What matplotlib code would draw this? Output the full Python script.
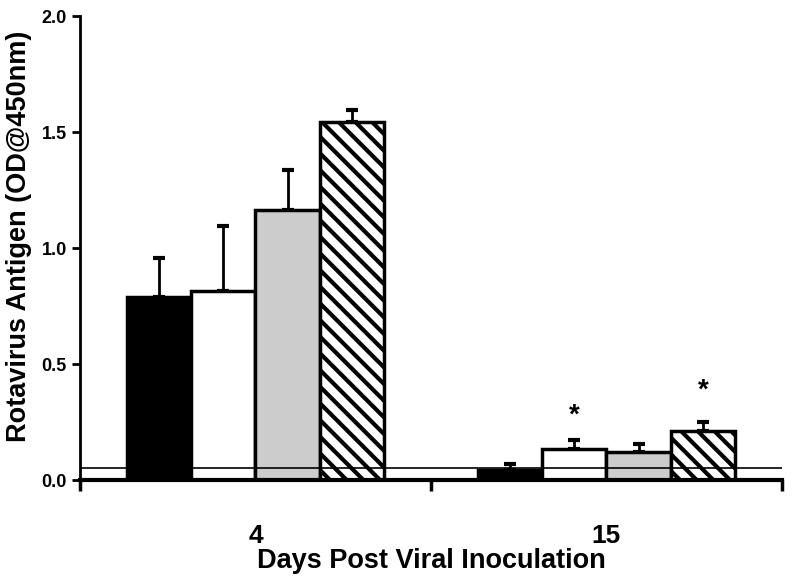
import numpy as np
import matplotlib
matplotlib.use("Agg")
import matplotlib.pyplot as plt

# data
days = ["4", "15"]
black_vals = [0.79, 0.045]
white_vals = [0.815, 0.133]
gray_vals = [1.165, 0.123]
hatch_vals = [1.545, 0.21]
black_err = [0.165, 0.025]
white_err = [0.28, 0.038]
gray_err = [0.17, 0.032]
hatch_err = [0.05, 0.04]
signif_white = [False, True]
signif_hatch = [False, True]
baseline = 0.05

plt.rcParams["hatch.linewidth"] = 3.0
plt.rcParams["font.family"] = ["Liberation Sans", "DejaVu Sans"]

fig = plt.figure(figsize=(7.95, 5.84), dpi=100)
ax = fig.add_axes([0.1006, 0.178, 0.883, 0.7946])

x = np.arange(len(days))
w = 0.183
series = [
    (black_vals, black_err, "black", ""),
    (white_vals, white_err, "white", ""),
    (gray_vals, gray_err, "#cccccc", ""),
    (hatch_vals, hatch_err, "white", "\\\\"),
]
offsets = (np.arange(4) - 1.5) * w
for (vals, err, col, h), off in zip(series, offsets):
    ax.bar(x + off, vals, w, color=col, edgecolor="black", linewidth=2.5,
           hatch=h, zorder=2)
    ax.errorbar(x + off, vals, yerr=[np.zeros(len(vals)), err], fmt="none",
                ecolor="black", elinewidth=2, capsize=4, capthick=3, zorder=1)

# significance stars
for i in range(len(days)):
    if signif_white[i]:
        ax.text(x[i] + offsets[1], white_vals[i] + white_err[i] + 0.05, "*",
                ha="center", va="bottom", fontsize=20, fontweight="bold")
    if signif_hatch[i]:
        ax.text(x[i] + offsets[3], hatch_vals[i] + hatch_err[i] + 0.08, "*",
                ha="center", va="bottom", fontsize=20, fontweight="bold")

ax.axhline(baseline, color="black", linewidth=1.2, zorder=3)

ax.set_xlim(-0.5, 1.5)
ax.set_ylim(0, 2.0)
ax.set_yticks([0.0, 0.5, 1.0, 1.5, 2.0])
ax.set_yticklabels(["0.0", "0.5", "1.0", "1.5", "2.0"], fontsize=13,
                   fontweight="bold")
ax.set_xticks([-0.5, 0.5, 1.5])
ax.set_xticklabels([])
ax.set_xticks(x, minor=True)
ax.set_xticklabels(days, minor=True, fontsize=19, fontweight="bold")
ax.tick_params(axis="x", which="major", direction="out", length=8, width=2.5)
ax.tick_params(axis="x", which="minor", length=0, pad=32)
ax.tick_params(axis="y", direction="out", length=6, width=2)

ax.spines["top"].set_visible(False)
ax.spines["right"].set_visible(False)
ax.spines["left"].set_linewidth(2)
ax.spines["bottom"].set_linewidth(3)
ax.spines["bottom"].set_zorder(4)

ax.set_ylabel("Rotavirus Antigen (OD@450nm)", fontsize=19.5, fontweight="bold")
ax.yaxis.set_label_coords(-0.068, 0.526)
ax.set_xlabel("Days Post Viral Inoculation", fontsize=19.5, fontweight="bold",
              labelpad=0)

fig.savefig("out.png", dpi=100)
